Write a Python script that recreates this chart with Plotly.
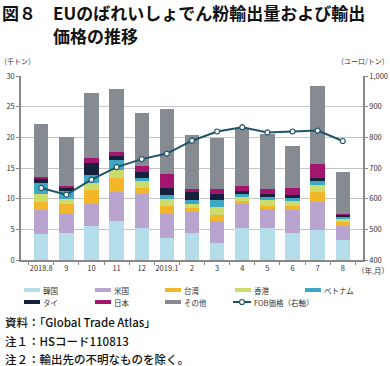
import plotly.graph_objects as go

months = ["2018.8", "9", "10", "11", "12", "2019.1", "2", "3", "4", "5", "6", "7", "8"]
korea   = [4.2, 4.4, 5.5, 6.4, 5.15, 3.65, 4.4, 2.85, 5.15, 5.15, 4.4, 4.95, 3.25]
usa     = [3.9, 3.1, 3.6, 4.75, 5.55, 3.8, 3.5, 3.5, 3.9, 3.15, 3.8, 4.5, 2.25]
taiwan  = [1.3, 1.7, 2.25, 2.15, 1.1, 1.3, 0.65, 1.0, 0.55, 0.55, 0.65, 1.6, 0.65]
hongkong = [1.3, 0.8, 1.2, 1.4, 1.1, 1.2, 0.6, 1.35, 0.75, 0.9, 0.75, 1.2, 0.55]
vietnam = [1.8, 1.2, 1.35, 1.55, 0.5, 0.7, 0.65, 1.05, 0.4, 0.55, 0.55, 0.6, 0.3]
thai    = [0.7, 0.6, 1.9, 0.65, 0.95, 1.15, 1.35, 1.05, 0.45, 0.5, 0.5, 0.6, 0.45]
japan   = [0.4, 0.2, 0.8, 0.7, 1.05, 2.15, 0.45, 0.7, 0.9, 0.7, 1.05, 2.15, 0.1]
others  = [8.5, 8.0, 10.6, 10.3, 8.6, 10.65, 8.8, 8.4, 9.4, 9.0, 6.95, 12.7, 6.8]
fob     = [635, 613, 662, 703, 729, 747, 789, 819, 833, 816, 819, 822, 788]

series_names = ["韓国", "米国", "台湾", "香港", "ベトナム", "タイ", "日本", "その他"]
series_vals = [korea, usa, taiwan, hongkong, vietnam, thai, japan, others]
colors = ["#b5dce9", "#b9a3cf", "#f2b62a", "#cbdc6c", "#3ea7c4", "#17203c", "#a3166f", "#868a91"]
line_color = "#1f5468"
FONT = "Noto Sans CJK JP"

W, H = 390, 366
L, R, T, B = 21, 363, 76, 260

fig = go.Figure()
for name, vals, c in zip(series_names, series_vals, colors):
    fig.add_trace(go.Bar(x=months, y=vals, name=name, marker=dict(color=c, line=dict(width=0)),
                         showlegend=False))
fig.add_trace(go.Scatter(x=months, y=fob, name="FOB価格（右軸）", yaxis="y2", mode="lines+markers",
                         line=dict(color=line_color, width=2),
                         marker=dict(symbol="circle", size=5, color="white",
                                     line=dict(color=line_color, width=1.2)),
                         showlegend=False))

def px(x):
    return (x - L) / (R - L)

def py(y):
    return (B - y) / (B - T)

shapes = []
ann = []
# custom legend
legend_items = [
    (24, 290, 0), (95, 290, 1), (165, 290, 2), (235, 290, 3), (305, 290, 4),
    (24, 302, 5), (95, 302, 6), (165, 302, 7),
]
for x0, y0, i in legend_items:
    shapes.append(dict(type="rect", xref="paper", yref="paper", x0=px(x0), x1=px(x0 + 16),
                       y0=py(y0 + 2), y1=py(y0 - 2), fillcolor=colors[i], line=dict(width=0)))
    ann.append(dict(text=series_names[i], xref="paper", yref="paper", x=px(x0 + 17), y=py(y0),
                    xanchor="left", yanchor="middle", showarrow=False,
                    font=dict(size=7.5, color="#333", family=FONT)))
# FOB legend
shapes.append(dict(type="line", xref="paper", yref="paper", x0=px(233), x1=px(251), y0=py(302), y1=py(302),
                   line=dict(color=line_color, width=2)))
shapes.append(dict(type="circle", xref="paper", yref="paper", x0=px(239.5), x1=px(244.5), y0=py(304.5), y1=py(299.5),
                   fillcolor="white", line=dict(color=line_color, width=1.2)))
ann.append(dict(text="FOB価格（右軸）", xref="paper", yref="paper", x=px(252), y=py(302),
                xanchor="left", yanchor="middle", showarrow=False,
                font=dict(size=7.5, color="#333", family=FONT)))

# titles
title_font = dict(size=17, color="#111", family=FONT)
ann.append(dict(text="<b>図８</b>", xref="paper", yref="paper", x=px(1), y=py(12), xanchor="left", yanchor="middle",
                showarrow=False, font=title_font, borderpad=0))
ann.append(dict(text="<b>EUのばれいしょでん粉輸出量および輸出</b>", xref="paper", yref="paper",
                x=px(52), y=py(12), xanchor="left", yanchor="middle",
                showarrow=False, font=title_font, borderpad=0))
ann.append(dict(text="<b>価格の推移</b>", xref="paper", yref="paper",
                x=px(52), y=py(35), xanchor="left", yanchor="middle",
                showarrow=False, font=title_font, borderpad=0))
# units
ann.append(dict(text="（千トン）", xref="paper", yref="paper", x=px(-2), y=py(61), xanchor="left", yanchor="middle",
                showarrow=False, font=dict(size=7, color="#333", family=FONT)))
ann.append(dict(text="（ユーロ/トン）", xref="paper", yref="paper", x=px(391), y=py(61), xanchor="right", yanchor="middle",
                showarrow=False, font=dict(size=7, color="#333", family=FONT)))
ann.append(dict(text="（年.月）", xref="paper", yref="paper", x=px(391), y=py(270), xanchor="right", yanchor="middle",
                showarrow=False, font=dict(size=7.5, color="#333", family=FONT)))
# notes
notes = ["資料：「Global Trade Atlas」", "注１：HSコード110813", "注２：輸出先の不明なものを除く。"]
for t, yy in zip(notes, [322, 341, 359]):
    ann.append(dict(text=t, xref="paper", yref="paper", x=px(3), y=py(yy), xanchor="left", yanchor="middle",
                    showarrow=False, font=dict(size=11.5, color="#111", family=FONT, weight=500)))

fig.update_layout(
    width=W, height=H,
    margin=dict(l=L, r=W - R, t=T, b=H - B, pad=0, autoexpand=False),
    barmode="stack", bargap=0.43,
    plot_bgcolor="white", paper_bgcolor="white",
    font=dict(family=FONT, size=8, color="#333"),
    showlegend=False,
    xaxis=dict(type="category", showline=True, linecolor="#888", linewidth=1.5, automargin=False,
               ticks="outside", ticklen=3, tickcolor="#888", tickson="boundaries", tickangle=0,
               tickfont=dict(size=7.5, color="#333"), showgrid=False, fixedrange=True),
    yaxis=dict(range=[0, 30], dtick=5, showline=True, linecolor="#888", linewidth=1.5, automargin=False,
               ticks="outside", ticklen=3, tickcolor="#888", showgrid=True, gridcolor="#c4c4c4", gridwidth=1.2,
               zeroline=False, tickfont=dict(size=7.5, color="#333")),
    yaxis2=dict(range=[400, 1000], dtick=100, overlaying="y", side="right", showline=True, linecolor="#888",
                linewidth=1.5, ticks="outside", ticklen=3, tickcolor="#888", showgrid=False, zeroline=False,
                automargin=False, tickformat=",", tickfont=dict(size=7.5, color="#333")),
    shapes=shapes, annotations=ann,
)

fig.write_html("out.html", config={"displayModeBar": False},
               post_script="document.body.style.margin='0';document.body.style.overflow='hidden';")
